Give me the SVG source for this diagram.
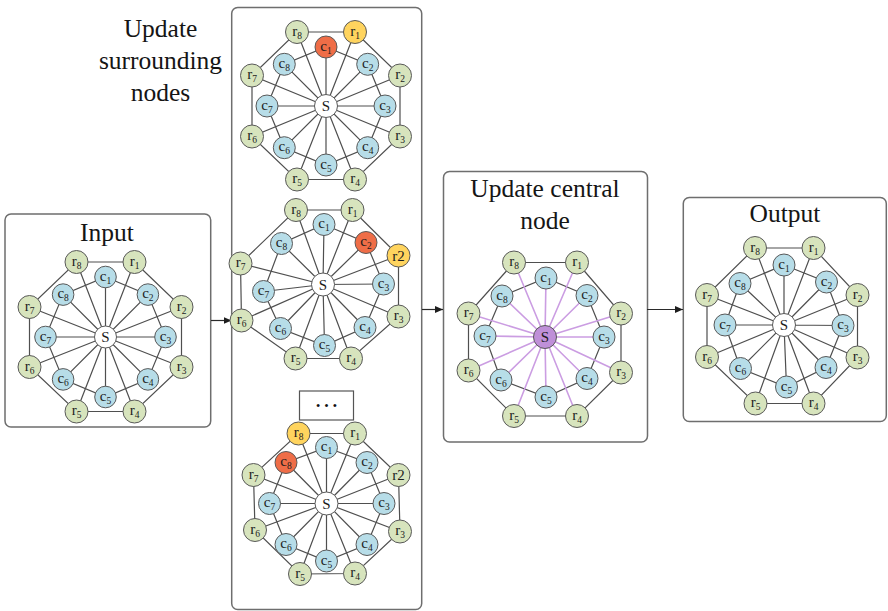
<svg xmlns="http://www.w3.org/2000/svg" width="888" height="611" viewBox="0 0 888 611">
  <defs>
    <marker id="ah" markerUnits="userSpaceOnUse" markerWidth="8" markerHeight="7" refX="8" refY="3.5" orient="auto">
      <path d="M0,0 L8,3.5 L0,7 z" fill="#1e1e1e"/>
    </marker>
  </defs>
  <style>
    .panel{fill:#fff;stroke:#6e6e6e;stroke-width:1.5}
    .title{font-family:"Liberation Serif","Times New Roman",serif;font-size:25.5px;fill:#151515;text-anchor:middle}
    .ring,.spoke{fill:none;stroke:#4f4f4f;stroke-width:1.2}
    .spoke.p{stroke:#cb9de2;stroke-width:1.6}
    .arrow{stroke:#2a2a2a;stroke-width:1.2;marker-end:url(#ah)}
    .nd circle{stroke:#595959;stroke-width:1}
    .r circle{fill:#d7e4bd}
    .c circle{fill:#b7dde8}
    .s circle{fill:#fff}
    .nd.o circle{fill:#ef6d47}
    .nd.y circle{fill:#ffd45e}
    .nd.pu circle{fill:#bf90d8}
    .nd text{font-family:"Liberation Serif","Times New Roman",serif;font-size:15px;text-anchor:middle;fill:#1c1c1c}
    .nd tspan{font-size:9.5px}
    .dots{font-family:"Liberation Serif","Times New Roman",serif;font-size:25px;text-anchor:middle;fill:#111}
  </style>

  <!-- panels -->
  <g id="panel-input">
    <rect class="panel" x="5" y="214" width="205.7" height="213" rx="6"/>
    <text class="title" x="107" y="241">Input</text>
  </g>
  <g id="panel-surrounding">
    <rect class="panel" x="231.7" y="7.5" width="190" height="602" rx="6"/>
    <text class="title" x="160.5" y="37">Update</text>
    <text class="title" x="160.5" y="69">surrounding</text>
    <text class="title" x="160.5" y="101">nodes</text>
    <rect x="299.5" y="391" width="54" height="29" fill="#fff" stroke="#555" stroke-width="1.2"/>
    <text class="dots" x="326.5" y="407">…</text>
  </g>
  <g id="panel-central">
    <rect class="panel" x="443.5" y="171.5" width="204" height="270.5" rx="6"/>
    <text class="title" x="545" y="197">Update central</text>
    <text class="title" x="545" y="229">node</text>
  </g>
  <g id="panel-output">
    <rect class="panel" x="683.3" y="197.5" width="203" height="224" rx="6"/>
    <text class="title" x="785" y="222">Output</text>
  </g>

  <!-- connectors -->
  <g id="connectors">
    <line class="arrow" x1="211" y1="320.5" x2="231.5" y2="320.5"/>
    <line class="arrow" x1="422" y1="309.5" x2="443" y2="309.5"/>
    <line class="arrow" x1="647" y1="309.5" x2="683" y2="309.5"/>

    <g id="edges-input">
      <polygon class="ring" points="134.5,262 181.5,307 181.5,367 134.5,411.5 76.5,411.5 29.5,367 29.5,307 76.5,262"/>
      <polygon class="ring" points="105.5,277 147.9,294.6 165.5,337 147.9,379.4 105.5,397 63.1,379.4 45.5,337 63.1,294.6"/>
      <path class="spoke" d="M105.5 337L105.5 277M105.5 337L147.9 294.6M105.5 337L165.5 337M105.5 337L147.9 379.4M105.5 337L105.5 397M105.5 337L63.1 379.4M105.5 337L45.5 337M105.5 337L63.1 294.6M105.5 337L134.5 262M105.5 337L181.5 307M105.5 337L181.5 367M105.5 337L134.5 411.5M105.5 337L76.5 411.5M105.5 337L29.5 367M105.5 337L29.5 307M105.5 337L76.5 262"/>
    </g>
    <g id="edges-step1">
      <polygon class="ring" points="355,32 400,75.5 400,136.5 355,179.5 297,179.5 252,136.5 252,75.5 297,32"/>
      <polygon class="ring" points="326,47 367.7,64.3 385,106 367.7,147.7 326,165 284.3,147.7 267,106 284.3,64.3"/>
      <path class="spoke" d="M326 106L326 47M326 106L367.7 64.3M326 106L385 106M326 106L367.7 147.7M326 106L326 165M326 106L284.3 147.7M326 106L267 106M326 106L284.3 64.3M326 106L355 32M326 106L400 75.5M326 106L400 136.5M326 106L355 179.5M326 106L297 179.5M326 106L252 136.5M326 106L252 75.5M326 106L297 32"/>
    </g>
    <g id="edges-step2">
      <polygon class="ring" points="352.5,210 398.5,255.5 398.5,316.5 351,358.5 295.5,358.5 241.5,320.5 240.5,263.5 296,210"/>
      <polygon class="ring" points="324,224.5 366,242.5 383.5,284 365,327.5 324.5,345.5 280.5,328.5 263.5,291.5 281.5,243.5"/>
      <path class="spoke" d="M323 284.5L324 224.5M323 284.5L366 242.5M323 284.5L383.5 284M323 284.5L365 327.5M323 284.5L324.5 345.5M323 284.5L280.5 328.5M323 284.5L263.5 291.5M323 284.5L281.5 243.5M323 284.5L352.5 210M323 284.5L398.5 255.5M323 284.5L398.5 316.5M323 284.5L351 358.5M323 284.5L295.5 358.5M323 284.5L241.5 320.5M323 284.5L240.5 263.5M323 284.5L296 210"/>
    </g>
    <g id="edges-step8">
      <polygon class="ring" points="355,433.5 398.5,475 400,531.5 355,573.5 300,574 255,530 253.5,475 298.5,433.5"/>
      <polygon class="ring" points="326.5,447.5 367,462.5 384,503.5 367,544.5 326.5,561 286,544.5 269.5,503.5 286,462.5"/>
      <path class="spoke" d="M326.5 503.5L326.5 447.5M326.5 503.5L367 462.5M326.5 503.5L384 503.5M326.5 503.5L367 544.5M326.5 503.5L326.5 561M326.5 503.5L286 544.5M326.5 503.5L269.5 503.5M326.5 503.5L286 462.5M326.5 503.5L355 433.5M326.5 503.5L398.5 475M326.5 503.5L400 531.5M326.5 503.5L355 573.5M326.5 503.5L300 574M326.5 503.5L255 530M326.5 503.5L253.5 475M326.5 503.5L298.5 433.5"/>
    </g>
    <g id="edges-central">
      <polygon class="ring" points="577,262.5 621,313.5 621,372.5 577,416 514,416 468.5,370.5 468.5,313.5 514,262.5"/>
      <polygon class="ring" points="546,278 587,295.5 604,337 587,378.5 546,397 501,380 485,336 502,296"/>
      <path class="spoke p" d="M545 337L546 278M545 337L587 295.5M545 337L604 337M545 337L587 378.5M545 337L546 397M545 337L501 380M545 337L485 336M545 337L502 296M545 337L577 262.5M545 337L621 313.5M545 337L621 372.5M545 337L577 416M545 337L514 416M545 337L468.5 370.5M545 337L468.5 313.5M545 337L514 262.5"/>
    </g>
    <g id="edges-output">
      <polygon class="ring" points="813.5,248 857.5,295 857.5,357.5 813.5,403.5 755.5,403.5 707,357 707,295 755,248"/>
      <polygon class="ring" points="784,265 826.5,282 843,325.5 826,367.5 786.5,387 740.5,368.5 725,325 740,283.5"/>
      <path class="spoke" d="M784 325L784 265M784 325L826.5 282M784 325L843 325.5M784 325L826 367.5M784 325L786.5 387M784 325L740.5 368.5M784 325L725 325M784 325L740 283.5M784 325L813.5 248M784 325L857.5 295M784 325L857.5 357.5M784 325L813.5 403.5M784 325L755.5 403.5M784 325L707 357M784 325L707 295M784 325L755 248"/>
    </g>
  </g>

  <!-- input graph nodes -->
  <g id="in-s" class="nd s" transform="translate(105.5,337)"><circle r="11"/><text y="5">S</text></g>
  <g id="in-c1" class="nd c" transform="translate(105.5,277)"><circle r="10.8"/><text y="3.5">c<tspan dy="3">1</tspan></text></g>
  <g id="in-c2" class="nd c" transform="translate(147.9,294.6)"><circle r="10.8"/><text y="3.5">c<tspan dy="3">2</tspan></text></g>
  <g id="in-c3" class="nd c" transform="translate(165.5,337)"><circle r="10.8"/><text y="3.5">c<tspan dy="3">3</tspan></text></g>
  <g id="in-c4" class="nd c" transform="translate(147.9,379.4)"><circle r="10.8"/><text y="3.5">c<tspan dy="3">4</tspan></text></g>
  <g id="in-c5" class="nd c" transform="translate(105.5,397)"><circle r="10.8"/><text y="3.5">c<tspan dy="3">5</tspan></text></g>
  <g id="in-c6" class="nd c" transform="translate(63.1,379.4)"><circle r="10.8"/><text y="3.5">c<tspan dy="3">6</tspan></text></g>
  <g id="in-c7" class="nd c" transform="translate(45.5,337)"><circle r="10.8"/><text y="3.5">c<tspan dy="3">7</tspan></text></g>
  <g id="in-c8" class="nd c" transform="translate(63.1,294.6)"><circle r="10.8"/><text y="3.5">c<tspan dy="3">8</tspan></text></g>
  <g id="in-r1" class="nd r" transform="translate(134.5,262)"><circle r="11.5"/><text y="3.5">r<tspan dy="3">1</tspan></text></g>
  <g id="in-r2" class="nd r" transform="translate(181.5,307)"><circle r="11.5"/><text y="3.5">r<tspan dy="3">2</tspan></text></g>
  <g id="in-r3" class="nd r" transform="translate(181.5,367)"><circle r="11.5"/><text y="3.5">r<tspan dy="3">3</tspan></text></g>
  <g id="in-r4" class="nd r" transform="translate(134.5,411.5)"><circle r="11.5"/><text y="3.5">r<tspan dy="3">4</tspan></text></g>
  <g id="in-r5" class="nd r" transform="translate(76.5,411.5)"><circle r="11.5"/><text y="3.5">r<tspan dy="3">5</tspan></text></g>
  <g id="in-r6" class="nd r" transform="translate(29.5,367)"><circle r="11.5"/><text y="3.5">r<tspan dy="3">6</tspan></text></g>
  <g id="in-r7" class="nd r" transform="translate(29.5,307)"><circle r="11.5"/><text y="3.5">r<tspan dy="3">7</tspan></text></g>
  <g id="in-r8" class="nd r" transform="translate(76.5,262)"><circle r="11.5"/><text y="3.5">r<tspan dy="3">8</tspan></text></g>

  <!-- step 1: c1 / r1 updated -->
  <g id="s1-s" class="nd s" transform="translate(326,106)"><circle r="11.5"/><text y="5">S</text></g>
  <g id="s1-c1" class="nd c o" transform="translate(326,47)"><circle r="11"/><text y="3.5">c<tspan dy="3">1</tspan></text></g>
  <g id="s1-c2" class="nd c" transform="translate(367.7,64.3)"><circle r="11"/><text y="3.5">c<tspan dy="3">2</tspan></text></g>
  <g id="s1-c3" class="nd c" transform="translate(385,106)"><circle r="11"/><text y="3.5">c<tspan dy="3">3</tspan></text></g>
  <g id="s1-c4" class="nd c" transform="translate(367.7,147.7)"><circle r="11"/><text y="3.5">c<tspan dy="3">4</tspan></text></g>
  <g id="s1-c5" class="nd c" transform="translate(326,165)"><circle r="11"/><text y="3.5">c<tspan dy="3">5</tspan></text></g>
  <g id="s1-c6" class="nd c" transform="translate(284.3,147.7)"><circle r="11"/><text y="3.5">c<tspan dy="3">6</tspan></text></g>
  <g id="s1-c7" class="nd c" transform="translate(267,106)"><circle r="11"/><text y="3.5">c<tspan dy="3">7</tspan></text></g>
  <g id="s1-c8" class="nd c" transform="translate(284.3,64.3)"><circle r="11"/><text y="3.5">c<tspan dy="3">8</tspan></text></g>
  <g id="s1-r1" class="nd r y" transform="translate(355,32)"><circle r="11.5"/><text y="3.5">r<tspan dy="3">1</tspan></text></g>
  <g id="s1-r2" class="nd r" transform="translate(400,75.5)"><circle r="11.5"/><text y="3.5">r<tspan dy="3">2</tspan></text></g>
  <g id="s1-r3" class="nd r" transform="translate(400,136.5)"><circle r="11.5"/><text y="3.5">r<tspan dy="3">3</tspan></text></g>
  <g id="s1-r4" class="nd r" transform="translate(355,179.5)"><circle r="11.5"/><text y="3.5">r<tspan dy="3">4</tspan></text></g>
  <g id="s1-r5" class="nd r" transform="translate(297,179.5)"><circle r="11.5"/><text y="3.5">r<tspan dy="3">5</tspan></text></g>
  <g id="s1-r6" class="nd r" transform="translate(252,136.5)"><circle r="11.5"/><text y="3.5">r<tspan dy="3">6</tspan></text></g>
  <g id="s1-r7" class="nd r" transform="translate(252,75.5)"><circle r="11.5"/><text y="3.5">r<tspan dy="3">7</tspan></text></g>
  <g id="s1-r8" class="nd r" transform="translate(297,32)"><circle r="11.5"/><text y="3.5">r<tspan dy="3">8</tspan></text></g>

  <!-- step 2: c2 / r2 updated -->
  <g id="s2-s" class="nd s" transform="translate(323,284.5)"><circle r="11.5"/><text y="5">S</text></g>
  <g id="s2-c1" class="nd c" transform="translate(324,224.5)"><circle r="11"/><text y="3.5">c<tspan dy="3">1</tspan></text></g>
  <g id="s2-c2" class="nd c o" transform="translate(366,242.5)"><circle r="11"/><text y="3.5">c<tspan dy="3">2</tspan></text></g>
  <g id="s2-c3" class="nd c" transform="translate(383.5,284)"><circle r="11"/><text y="3.5">c<tspan dy="3">3</tspan></text></g>
  <g id="s2-c4" class="nd c" transform="translate(365,327.5)"><circle r="11"/><text y="3.5">c<tspan dy="3">4</tspan></text></g>
  <g id="s2-c5" class="nd c" transform="translate(324.5,345.5)"><circle r="11"/><text y="3.5">c<tspan dy="3">5</tspan></text></g>
  <g id="s2-c6" class="nd c" transform="translate(280.5,328.5)"><circle r="11"/><text y="3.5">c<tspan dy="3">6</tspan></text></g>
  <g id="s2-c7" class="nd c" transform="translate(263.5,291.5)"><circle r="11"/><text y="3.5">c<tspan dy="3">7</tspan></text></g>
  <g id="s2-c8" class="nd c" transform="translate(281.5,243.5)"><circle r="11"/><text y="3.5">c<tspan dy="3">8</tspan></text></g>
  <g id="s2-r1" class="nd r" transform="translate(352.5,210)"><circle r="11.5"/><text y="3.5">r<tspan dy="3">1</tspan></text></g>
  <g id="s2-r2" class="nd r y" transform="translate(398.5,255.5)"><circle r="11.5"/><text y="5">r2</text></g>
  <g id="s2-r3" class="nd r" transform="translate(398.5,316.5)"><circle r="11.5"/><text y="3.5">r<tspan dy="3">3</tspan></text></g>
  <g id="s2-r4" class="nd r" transform="translate(351,358.5)"><circle r="11.5"/><text y="3.5">r<tspan dy="3">4</tspan></text></g>
  <g id="s2-r5" class="nd r" transform="translate(295.5,358.5)"><circle r="11.5"/><text y="3.5">r<tspan dy="3">5</tspan></text></g>
  <g id="s2-r6" class="nd r" transform="translate(241.5,320.5)"><circle r="11.5"/><text y="3.5">r<tspan dy="3">6</tspan></text></g>
  <g id="s2-r7" class="nd r" transform="translate(240.5,263.5)"><circle r="11.5"/><text y="3.5">r<tspan dy="3">7</tspan></text></g>
  <g id="s2-r8" class="nd r" transform="translate(296,210)"><circle r="11.5"/><text y="3.5">r<tspan dy="3">8</tspan></text></g>

  <!-- step 8: c8 / r8 updated -->
  <g id="s8-s" class="nd s" transform="translate(326.5,503.5)"><circle r="11.5"/><text y="5">S</text></g>
  <g id="s8-c1" class="nd c" transform="translate(326.5,447.5)"><circle r="11"/><text y="3.5">c<tspan dy="3">1</tspan></text></g>
  <g id="s8-c2" class="nd c" transform="translate(367,462.5)"><circle r="11"/><text y="3.5">c<tspan dy="3">2</tspan></text></g>
  <g id="s8-c3" class="nd c" transform="translate(384,503.5)"><circle r="11"/><text y="3.5">c<tspan dy="3">3</tspan></text></g>
  <g id="s8-c4" class="nd c" transform="translate(367,544.5)"><circle r="11"/><text y="3.5">c<tspan dy="3">4</tspan></text></g>
  <g id="s8-c5" class="nd c" transform="translate(326.5,561)"><circle r="11"/><text y="3.5">c<tspan dy="3">5</tspan></text></g>
  <g id="s8-c6" class="nd c" transform="translate(286,544.5)"><circle r="11"/><text y="3.5">c<tspan dy="3">6</tspan></text></g>
  <g id="s8-c7" class="nd c" transform="translate(269.5,503.5)"><circle r="11"/><text y="3.5">c<tspan dy="3">7</tspan></text></g>
  <g id="s8-c8" class="nd c o" transform="translate(286,462.5)"><circle r="11"/><text y="3.5">c<tspan dy="3">8</tspan></text></g>
  <g id="s8-r1" class="nd r" transform="translate(355,433.5)"><circle r="11.5"/><text y="3.5">r<tspan dy="3">1</tspan></text></g>
  <g id="s8-r2" class="nd r" transform="translate(398.5,475)"><circle r="11.5"/><text y="5">r2</text></g>
  <g id="s8-r3" class="nd r" transform="translate(400,531.5)"><circle r="11.5"/><text y="3.5">r<tspan dy="3">3</tspan></text></g>
  <g id="s8-r4" class="nd r" transform="translate(355,573.5)"><circle r="11.5"/><text y="3.5">r<tspan dy="3">4</tspan></text></g>
  <g id="s8-r5" class="nd r" transform="translate(300,574)"><circle r="11.5"/><text y="3.5">r<tspan dy="3">5</tspan></text></g>
  <g id="s8-r6" class="nd r" transform="translate(255,530)"><circle r="11.5"/><text y="3.5">r<tspan dy="3">6</tspan></text></g>
  <g id="s8-r7" class="nd r" transform="translate(253.5,475)"><circle r="11.5"/><text y="3.5">r<tspan dy="3">7</tspan></text></g>
  <g id="s8-r8" class="nd r y" transform="translate(298.5,433.5)"><circle r="11.5"/><text y="3.5">r<tspan dy="3">8</tspan></text></g>

  <!-- central node update -->
  <g id="cn-s" class="nd s pu" transform="translate(545,337)"><circle r="11.5"/><text y="5">S</text></g>
  <g id="cn-c1" class="nd c" transform="translate(546,278)"><circle r="11"/><text y="3.5">c<tspan dy="3">1</tspan></text></g>
  <g id="cn-c2" class="nd c" transform="translate(587,295.5)"><circle r="11"/><text y="3.5">c<tspan dy="3">2</tspan></text></g>
  <g id="cn-c3" class="nd c" transform="translate(604,337)"><circle r="11"/><text y="3.5">c<tspan dy="3">3</tspan></text></g>
  <g id="cn-c4" class="nd c" transform="translate(587,378.5)"><circle r="11"/><text y="3.5">c<tspan dy="3">4</tspan></text></g>
  <g id="cn-c5" class="nd c" transform="translate(546,397)"><circle r="11"/><text y="3.5">c<tspan dy="3">5</tspan></text></g>
  <g id="cn-c6" class="nd c" transform="translate(501,380)"><circle r="11"/><text y="3.5">c<tspan dy="3">6</tspan></text></g>
  <g id="cn-c7" class="nd c" transform="translate(485,336)"><circle r="11"/><text y="3.5">c<tspan dy="3">7</tspan></text></g>
  <g id="cn-c8" class="nd c" transform="translate(502,296)"><circle r="11"/><text y="3.5">c<tspan dy="3">8</tspan></text></g>
  <g id="cn-r1" class="nd r" transform="translate(577,262.5)"><circle r="11.5"/><text y="3.5">r<tspan dy="3">1</tspan></text></g>
  <g id="cn-r2" class="nd r" transform="translate(621,313.5)"><circle r="11.5"/><text y="3.5">r<tspan dy="3">2</tspan></text></g>
  <g id="cn-r3" class="nd r" transform="translate(621,372.5)"><circle r="11.5"/><text y="3.5">r<tspan dy="3">3</tspan></text></g>
  <g id="cn-r4" class="nd r" transform="translate(577,416)"><circle r="11.5"/><text y="3.5">r<tspan dy="3">4</tspan></text></g>
  <g id="cn-r5" class="nd r" transform="translate(514,416)"><circle r="11.5"/><text y="3.5">r<tspan dy="3">5</tspan></text></g>
  <g id="cn-r6" class="nd r" transform="translate(468.5,370.5)"><circle r="11.5"/><text y="3.5">r<tspan dy="3">6</tspan></text></g>
  <g id="cn-r7" class="nd r" transform="translate(468.5,313.5)"><circle r="11.5"/><text y="3.5">r<tspan dy="3">7</tspan></text></g>
  <g id="cn-r8" class="nd r" transform="translate(514,262.5)"><circle r="11.5"/><text y="3.5">r<tspan dy="3">8</tspan></text></g>

  <!-- output graph -->
  <g id="out-s" class="nd s" transform="translate(784,325)"><circle r="11.5"/><text y="5">S</text></g>
  <g id="out-c1" class="nd c" transform="translate(784,265)"><circle r="11"/><text y="3.5">c<tspan dy="3">1</tspan></text></g>
  <g id="out-c2" class="nd c" transform="translate(826.5,282)"><circle r="11"/><text y="3.5">c<tspan dy="3">2</tspan></text></g>
  <g id="out-c3" class="nd c" transform="translate(843,325.5)"><circle r="11"/><text y="3.5">c<tspan dy="3">3</tspan></text></g>
  <g id="out-c4" class="nd c" transform="translate(826,367.5)"><circle r="11"/><text y="3.5">c<tspan dy="3">4</tspan></text></g>
  <g id="out-c5" class="nd c" transform="translate(786.5,387)"><circle r="11"/><text y="3.5">c<tspan dy="3">5</tspan></text></g>
  <g id="out-c6" class="nd c" transform="translate(740.5,368.5)"><circle r="11"/><text y="3.5">c<tspan dy="3">6</tspan></text></g>
  <g id="out-c7" class="nd c" transform="translate(725,325)"><circle r="11"/><text y="3.5">c<tspan dy="3">7</tspan></text></g>
  <g id="out-c8" class="nd c" transform="translate(740,283.5)"><circle r="11"/><text y="3.5">c<tspan dy="3">8</tspan></text></g>
  <g id="out-r1" class="nd r" transform="translate(813.5,248)"><circle r="11.5"/><text y="3.5">r<tspan dy="3">1</tspan></text></g>
  <g id="out-r2" class="nd r" transform="translate(857.5,295)"><circle r="11.5"/><text y="3.5">r<tspan dy="3">2</tspan></text></g>
  <g id="out-r3" class="nd r" transform="translate(857.5,357.5)"><circle r="11.5"/><text y="3.5">r<tspan dy="3">3</tspan></text></g>
  <g id="out-r4" class="nd r" transform="translate(813.5,403.5)"><circle r="11.5"/><text y="3.5">r<tspan dy="3">4</tspan></text></g>
  <g id="out-r5" class="nd r" transform="translate(755.5,403.5)"><circle r="11.5"/><text y="3.5">r<tspan dy="3">5</tspan></text></g>
  <g id="out-r6" class="nd r" transform="translate(707,357)"><circle r="11.5"/><text y="3.5">r<tspan dy="3">6</tspan></text></g>
  <g id="out-r7" class="nd r" transform="translate(707,295)"><circle r="11.5"/><text y="3.5">r<tspan dy="3">7</tspan></text></g>
  <g id="out-r8" class="nd r" transform="translate(755,248)"><circle r="11.5"/><text y="3.5">r<tspan dy="3">8</tspan></text></g>
</svg>
